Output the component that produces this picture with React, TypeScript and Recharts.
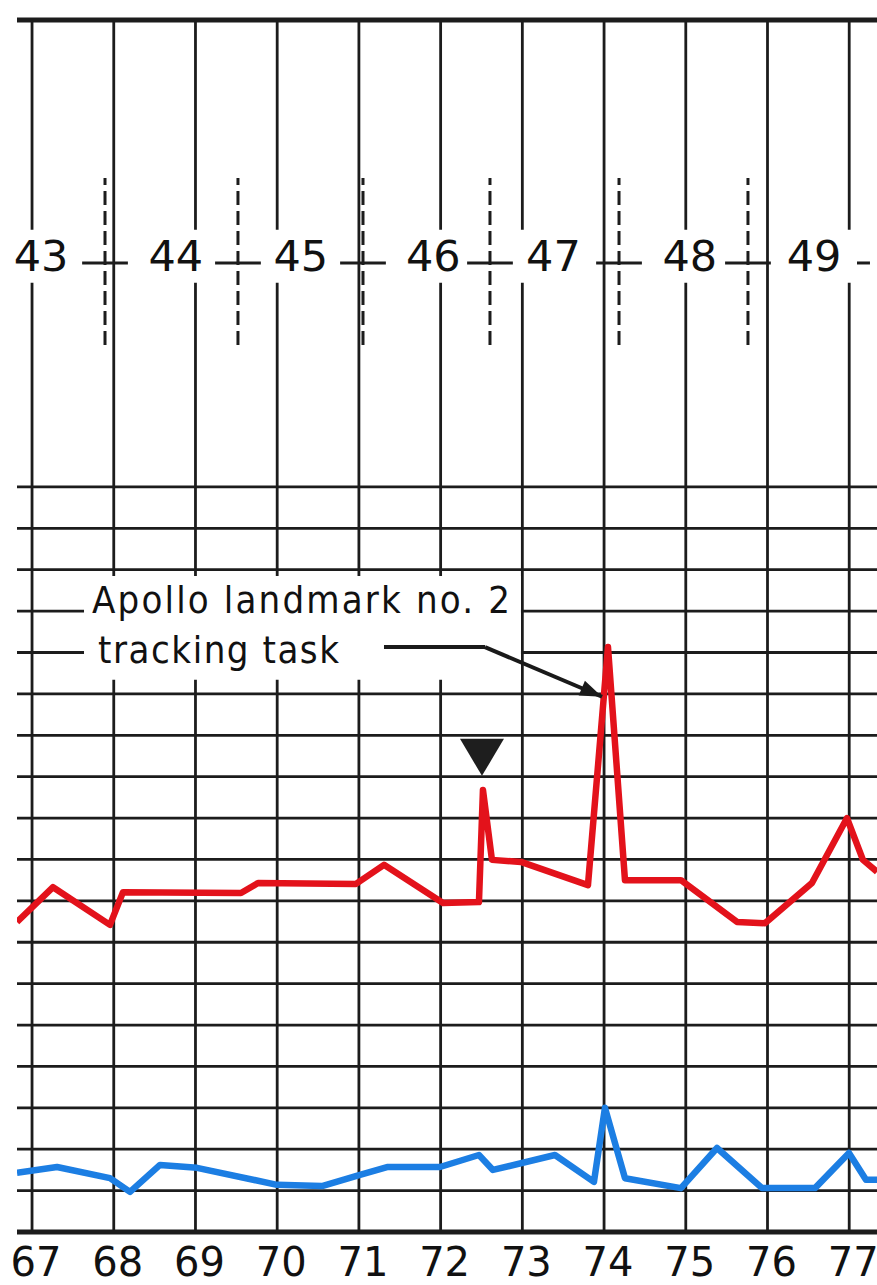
import { LineChart, Line, XAxis, YAxis, CartesianGrid, ReferenceLine, ReferenceArea, ReferenceDot } from 'recharts';

// hour ticks along the bottom of the strip chart, grid rows of the lower panel
const hourTicks = [67, 68, 69, 70, 71, 72, 73, 74, 75, 76, 77];
const gridRows = [1, 2, 3, 4, 5, 6, 7, 8, 9, 10, 11, 12, 13, 14, 15, 16, 17, 18];

// red trace (upper)
const redX = [66.816, 67.257, 67.954, 68.113, 69.557, 69.765, 70.964, 71.307, 72.029, 72.469, 72.518, 72.628, 72.983, 73.803, 74.048, 74.256, 74.941, 75.627, 75.969, 76.544, 76.973, 77.168, 77.34];
const redY = [7.49, 8.33, 7.42, 8.21, 8.19, 8.43, 8.41, 8.87, 7.95, 7.97, 10.68, 8.99, 8.94, 8.38, 14.13, 8.5, 8.5, 7.49, 7.46, 8.43, 10.0, 8.99, 8.7];

// blue trace (lower)
const blueX = [66.816, 67.306, 67.954, 68.199, 68.566, 69.019, 69.998, 70.548, 71.013, 71.344, 71.992, 72.469, 72.64, 73.399, 73.876, 74.011, 74.256, 74.941, 75.382, 75.933, 76.581, 76.997, 77.205, 77.34];
const blueY = [1.43, 1.57, 1.3, 0.97, 1.62, 1.55, 1.14, 1.11, 1.38, 1.57, 1.57, 1.86, 1.5, 1.86, 1.21, 3.0, 1.3, 1.06, 2.03, 1.06, 1.06, 1.91, 1.26, 1.26];

// revolution numbers across the top and the dashed boundaries between them
const revLabels = ['43', '44', '45', '46', '47', '48', '49'];
const revLabelX = [67.11, 68.76, 70.29, 71.91, 73.38, 75.05, 76.57];
const revBoundaries = [67.893, 69.52, 71.05, 72.604, 74.183, 75.761];
const lastTick = [77.095, 77.254]; // the dash after "49", boundary itself is off the sheet

// annotation
const noteLines = ['Apollo landmark no. 2', 'tracking task'];
const markerAt = { x: 72.506, y: 11.02 };
const arrowPts = [
  { x: 71.307, y: 14.13 },
  { x: 72.543, y: 14.13 },
  { x: 73.975, y: 12.93 },
];

const redData = redX.map((x, i) => ({ x, y: redY[i] }));
const blueData = blueX.map((x, i) => ({ x, y: blueY[i] }));

const INK = '#1c1c1c';
const NUM_FONT = "'DejaVu Sans', sans-serif";
const TICK_Y = 23.41;

function HourTick(props: any) {
  const { x, y, payload } = props;
  return (
    <text x={x + 4} y={y + 44} textAnchor="middle" fontFamily={NUM_FONT} fontSize={40} fill="#111">
      {payload.value}
    </text>
  );
}

function App() {
  return (
    <div style={{ position: 'absolute', left: 0, top: 0, background: '#fff' }}>
      <LineChart
        width={877}
        height={1285}
        margin={{ top: 20, right: 0, left: 17, bottom: 13 }}
      >
        <XAxis
          type="number"
          dataKey="x"
          domain={[66.816, 77.34]}
          ticks={hourTicks}
          allowDataOverflow
          axisLine={false}
          tickLine={false}
          tickSize={0}
          tickMargin={0}
          height={40}
          interval={0}
          tick={<HourTick />}
        />
        <YAxis type="number" domain={[0, 29.28]} ticks={gridRows} allowDataOverflow hide />
        <CartesianGrid stroke={INK} strokeWidth={2.8} syncWithTicks />

        <ReferenceLine y={0} stroke={INK} strokeWidth={5} />
        <ReferenceLine y={29.28} stroke={INK} strokeWidth={5} />

        {revLabels.map((lab, i) => (
          <ReferenceArea
            key={'rev' + lab}
            x1={revLabelX[i] - 0.465}
            x2={revLabelX[i] + 0.465}
            y1={22.93}
            y2={24.21}
            fill="#fff"
            fillOpacity={1}
            stroke="none"
            ifOverflow="visible"
            label={{
              content: (p: any) => {
                const vb = p.viewBox;
                return (
                  <text
                    x={vb.x + vb.width / 2}
                    y={vb.y + vb.height / 2 + 15}
                    textAnchor="middle"
                    fontFamily={NUM_FONT}
                    fontSize={43}
                    fill="#111"
                  >
                    {lab}
                  </text>
                );
              },
            }}
          />
        ))}

        {revBoundaries.map((b) => (
          <ReferenceLine
            key={'dash' + b}
            segment={[{ x: b, y: 21.43 }, { x: b, y: 25.46 }]}
            stroke={INK}
            strokeWidth={3}
            strokeDasharray="14 6"
          />
        ))}
        {revBoundaries.map((b) => (
          <ReferenceLine
            key={'tick' + b}
            segment={[{ x: b - 0.28, y: TICK_Y }, { x: b + 0.28, y: TICK_Y }]}
            stroke={INK}
            strokeWidth={3}
          />
        ))}
        <ReferenceLine
          segment={[{ x: lastTick[0], y: TICK_Y }, { x: lastTick[1], y: TICK_Y }]}
          stroke={INK}
          strokeWidth={3}
        />

        <ReferenceArea
          x1={67.636}
          x2={72.983}
          y1={13.34}
          y2={15.85}
          fill="#fff"
          fillOpacity={1}
          stroke="none"
          label={{
            content: (p: any) => {
              const vb = p.viewBox;
              const fam = "'Liberation Sans Narrow', 'DejaVu Sans Condensed', 'Liberation Sans', sans-serif";
              return (
                <g fill="#111" fontFamily={fam} fontSize={38}>
                  <text x={vb.x + 8} y={vb.y + 37} textLength={418} lengthAdjust="spacing">
                    {noteLines[0]}
                  </text>
                  <text x={vb.x + 14} y={vb.y + 87} textLength={241} lengthAdjust="spacing">
                    {noteLines[1]}
                  </text>
                </g>
              );
            },
          }}
        />

        <Line
          data={redData}
          dataKey="y"
          type="linear"
          stroke="#e3121b"
          strokeWidth={6.5}
          strokeLinejoin="round"
          dot={false}
          activeDot={false}
          isAnimationActive={false}
        />
        <Line
          data={blueData}
          dataKey="y"
          type="linear"
          stroke="#1c7ee3"
          strokeWidth={6.5}
          strokeLinejoin="round"
          dot={false}
          activeDot={false}
          isAnimationActive={false}
        />

        <ReferenceDot
          x={markerAt.x}
          y={markerAt.y}
          r={1}
          shape={(p: any) => (
            <polygon
              points={`${p.cx - 22},${p.cy - 37} ${p.cx + 22},${p.cy - 37} ${p.cx},${p.cy}`}
              fill="#1e1e1e"
            />
          )}
        />

        <ReferenceLine segment={[arrowPts[0], arrowPts[1]]} stroke="#1a1a1a" strokeWidth={4} />
        <ReferenceLine segment={[arrowPts[1], arrowPts[2]]} stroke="#1a1a1a" strokeWidth={4} />
        <ReferenceDot
          x={arrowPts[2].x}
          y={arrowPts[2].y}
          r={1}
          shape={(p: any) => {
            const a = Math.atan2(50, 117);
            const L = 22;
            const w = 8;
            const bx = p.cx - L * Math.cos(a);
            const by = p.cy - L * Math.sin(a);
            const nx = -Math.sin(a) * w;
            const ny = Math.cos(a) * w;
            return (
              <polygon
                points={`${p.cx},${p.cy} ${bx + nx},${by + ny} ${bx - nx},${by - ny}`}
                fill="#1a1a1a"
              />
            );
          }}
        />
      </LineChart>
    </div>
  );
}

export default App;
